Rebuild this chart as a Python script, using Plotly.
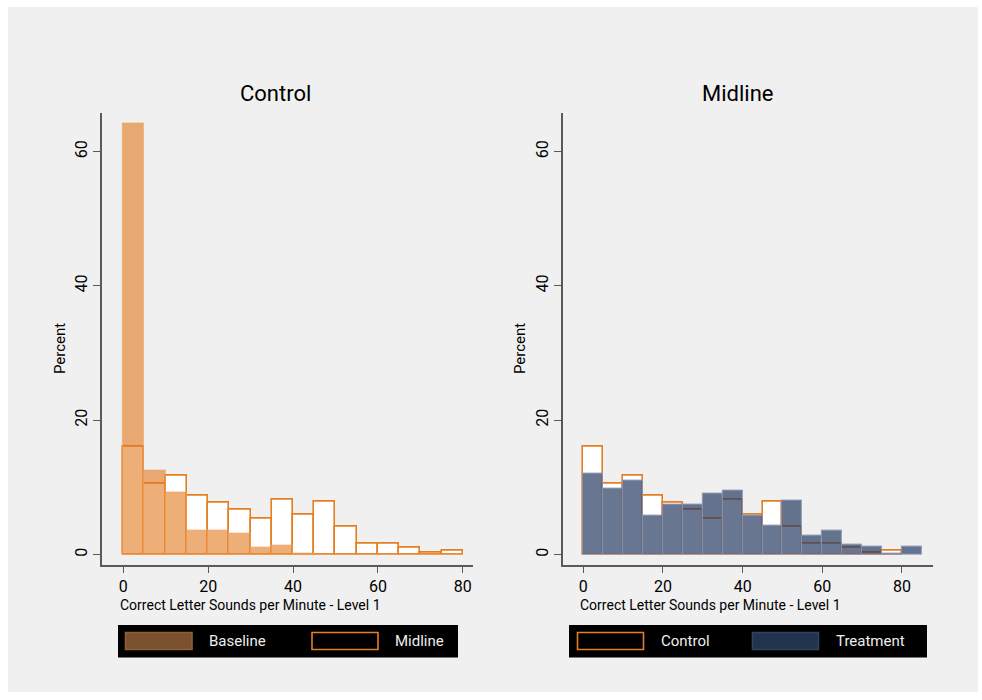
import plotly.graph_objects as go

W, H = 982, 700

# Histogram bins (5-point wide) for correct letter sounds per minute
bin_starts = [0, 5, 10, 15, 20, 25, 30, 35, 40, 45, 50, 55, 60, 65, 70, 75, 80]
bin_width = 5

# Control group: baseline vs midline (percent of pupils per bin)
baseline = [64.1, 12.5, 9.26, 3.6, 3.5, 3.1, 1.07, 1.36, 0.1, 0, 0, 0, 0, 0, 0, 0]
midline_control = [16.0, 10.6, 11.7, 8.8, 7.7, 6.7, 5.3, 8.2, 5.95, 7.8, 4.2,
                   1.6, 1.6, 1.0, 0.25, 0.6]
# Midline: treatment group
midline_treatment = [12.0, 9.8, 11.0, 5.8, 7.4, 7.35, 9.1, 9.5, 5.8, 4.35, 8.05,
                     2.85, 3.6, 1.4, 1.1, 0.15, 1.1]

panel_titles = ["Control", "Midline"]
x_title = "Correct Letter Sounds per Minute - Level 1"
y_title = "Percent"
x_ticks = [0, 20, 40, 60, 80]
y_ticks = [0, 20, 40, 60]
legend_left = ["Baseline", "Midline"]
legend_right = ["Control", "Treatment"]

FONT = "Roboto, Liberation Sans, sans-serif"
ORANGE = "#e67e22"
ORANGE_FILL = "rgba(226,120,30,0.6)"
ORANGE_EDGE = "rgba(240,165,100,0.6)"
NAVY_FILL = "rgba(40,60,100,0.7)"
NAVY_EDGE = "rgba(140,152,182,0.8)"
BG = "#f0f0f0"


def fx(p):
    return p / W


def fy(p):
    return 1 - p / H


def centers(n):
    return [b + bin_width / 2 for b in bin_starts[:n]]


fig = go.Figure()

# Left panel: midline outline bars underneath, baseline translucent on top
fig.add_trace(go.Bar(x=centers(len(midline_control)), y=midline_control, width=bin_width,
                     marker=dict(color="white", line=dict(color=ORANGE, width=1.6)),
                     xaxis="x", yaxis="y", showlegend=False))
fig.add_trace(go.Bar(x=centers(len(baseline)), y=baseline, width=bin_width,
                     marker=dict(color=ORANGE_FILL, line=dict(color=ORANGE_EDGE, width=1.2)),
                     xaxis="x", yaxis="y", showlegend=False))

# Right panel: control outline bars underneath, treatment translucent on top
fig.add_trace(go.Bar(x=centers(len(midline_control)), y=midline_control, width=bin_width,
                     marker=dict(color="white", line=dict(color=ORANGE, width=1.6)),
                     xaxis="x2", yaxis="y2", showlegend=False))
fig.add_trace(go.Bar(x=centers(len(midline_treatment)), y=midline_treatment, width=bin_width,
                     marker=dict(color=NAVY_FILL, line=dict(color=NAVY_EDGE, width=1.2)),
                     xaxis="x2", yaxis="y2", showlegend=False))

y_dom = [fy(565), fy(112.7)]
common_x = dict(showgrid=False, zeroline=False, showline=True, linecolor="#5a5a5a",
                linewidth=1.6, ticks="outside", ticklen=6, tickwidth=1.4, tickcolor="#5a5a5a",
                tickvals=x_ticks, tickfont=dict(family=FONT, size=16, color="black"),
                automargin=False, fixedrange=True)
common_y = dict(showgrid=False, zeroline=False, showline=True, linecolor="#5a5a5a",
                linewidth=1.6, ticks="outside", ticklen=7, tickwidth=1.4, tickcolor="#5a5a5a",
                tickvals=y_ticks, tickangle=-90, range=[-1.56, 65.8], domain=y_dom,
                tickfont=dict(family=FONT, size=16, color="black"),
                automargin=False, fixedrange=True)

fig.update_layout(
    width=W, height=H,
    margin=dict(l=0, r=0, t=0, b=0),
    paper_bgcolor="white",
    plot_bgcolor=BG,
    barmode="overlay",
    bargap=0,
    xaxis=dict(common_x, domain=[fx(102), fx(473)], range=[-5.0, 82.4], anchor="y"),
    yaxis=dict(common_y, anchor="x"),
    xaxis2=dict(common_x, domain=[fx(563), fx(933)], range=[-5.1, 87.8], anchor="y2"),
    yaxis2=dict(common_y, anchor="x2"),
)

shapes = [
    # gray graph region inside a thin white border
    dict(type="rect", xref="paper", yref="paper", x0=fx(8), x1=fx(978), y0=fy(692), y1=fy(7),
         fillcolor=BG, line=dict(width=0), layer="below"),
]

annotations = []
# Panel titles
for label, cx in zip(panel_titles, [275, 737]):
    annotations.append(dict(text=label, x=fx(cx), y=fy(93), xref="paper", yref="paper",
                            showarrow=False, xanchor="center", yanchor="middle",
                            font=dict(family=FONT, size=22, color="black")))
# Axis titles
for lx, px_ in [(118, 60), (578, 520)]:
    annotations.append(dict(text=x_title, x=fx(lx), y=fy(605), xref="paper", yref="paper",
                            showarrow=False, xanchor="left", yanchor="middle",
                            font=dict(family=FONT, size=14, color="black")))
    annotations.append(dict(text=y_title, x=fx(px_), y=fy(349), xref="paper", yref="paper",
                            showarrow=False, xanchor="center", yanchor="middle", textangle=-90,
                            font=dict(family=FONT, size=15, color="black")))


def legend_box(x0, x1, items):
    shapes.append(dict(type="rect", xref="paper", yref="paper", x0=fx(x0), x1=fx(x1),
                       y0=fy(657.5), y1=fy(625), fillcolor="black", line=dict(width=0)))
    for sx0, sx1, fill, edge, tx, label in items:
        shapes.append(dict(type="rect", xref="paper", yref="paper", x0=fx(sx0), x1=fx(sx1),
                           y0=fy(649.5), y1=fy(632.5), fillcolor=fill,
                           line=dict(color=edge, width=1.6)))
        annotations.append(dict(text=label, x=fx(tx), y=fy(641), xref="paper", yref="paper",
                                showarrow=False, xanchor="left", yanchor="middle",
                                font=dict(family=FONT, size=15, color="#eeeeee")))


legend_box(118, 458, [
    (125.5, 192, "rgb(122,80,46)", "rgb(145,95,55)", 207, legend_left[0]),
    (312, 378, "black", ORANGE, 393, legend_left[1]),
])
legend_box(569, 927, [
    (577.5, 643.5, "black", ORANGE, 659, legend_right[0]),
    (752.5, 818.5, "rgb(34,52,77)", "rgb(48,66,92)", 834, legend_right[1]),
])

fig.update_layout(shapes=shapes, annotations=annotations)
fig.write_html("out.html")
